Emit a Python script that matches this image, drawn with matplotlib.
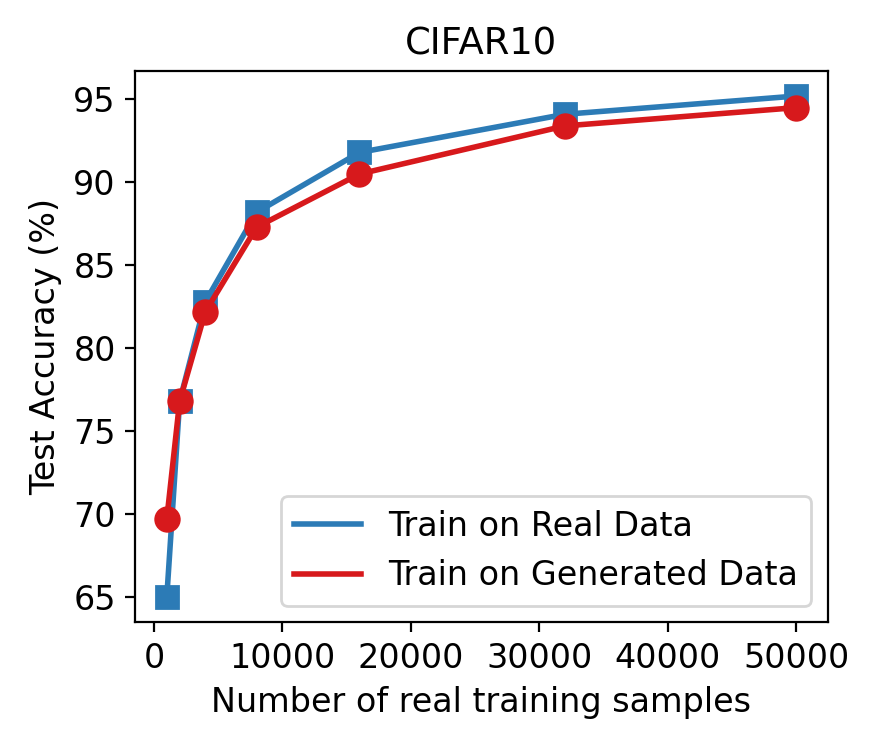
import matplotlib
matplotlib.use("Agg")
import matplotlib.pyplot as plt

samples = [1000, 2000, 4000, 8000, 16000, 32000, 50000]
acc_real = [65.0, 76.8, 82.8, 88.2, 91.8, 94.1, 95.2]
acc_gen = [69.7, 76.8, 82.2, 87.3, 90.5, 93.4, 94.5]

blue = "#2c7bb6"
red = "#d7191c"

plt.rcParams['font.size'] = 12
fig = plt.figure(figsize=(4.365, 3.735), dpi=200)
ax = fig.add_axes([0.155, 0.167, 0.793, 0.738])

ax.plot(samples, acc_real, color=blue, lw=2, label="Train on Real Data")
ax.plot(samples, acc_real, color=blue, ls="none", marker="s", ms=8)
ax.plot(samples, acc_gen, color=red, lw=2, label="Train on Generated Data")
ax.plot(samples, acc_gen, color=red, ls="none", marker="o", ms=8.5)

ax.set_yticks([65, 70, 75, 80, 85, 90, 95])
ax.set_xticks([0, 10000, 20000, 30000, 40000, 50000])
ax.set_xlabel("Number of real training samples")
ax.set_ylabel("Test Accuracy (%)")
ax.set_title("CIFAR10", fontsize=13.3)
ax.legend(loc="lower right")

fig.savefig("out.png", dpi=200)
